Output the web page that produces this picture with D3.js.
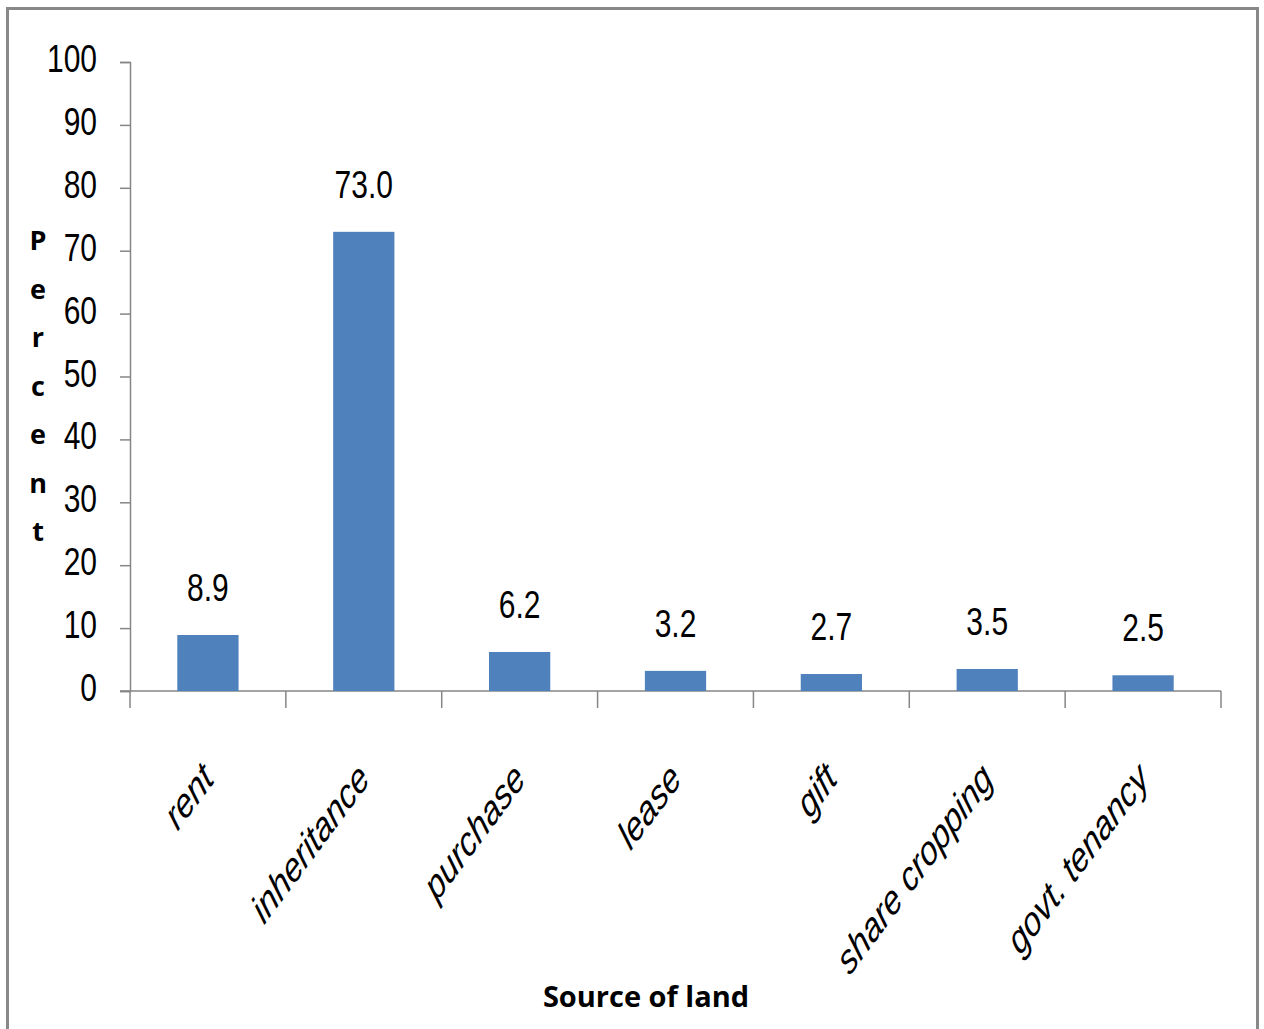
<!DOCTYPE html>
<html>
<head>
<meta charset="utf-8">
<script src="https://cdn.jsdelivr.net/npm/d3@7"></script>
<style>
  body { margin: 0; background: #fff; }
  svg text { fill: #000; }
</style>
</head>
<body>
<svg id="chart" width="1264" height="1029"></svg>
<script>
const categories = ['rent', 'inheritance', 'purchase', 'lease', 'gift', 'share cropping', 'govt. tenancy'];
const values = [8.9, 73.0, 6.2, 3.2, 2.7, 3.5, 2.5];
const yTicks = [0, 10, 20, 30, 40, 50, 60, 70, 80, 90, 100];
const yTitle = 'Percent';
const xTitle = 'Source of land';

const plotLeft = 130;
const plotRight = 1221;
const plotTop = 62;
const plotBottom = 691;
const stretch = 1.3; // text in the source looks squeezed sideways

const svg = d3.select('#chart');

// outer frame
svg.append('rect')
  .attr('x', 7.5)
  .attr('y', 8.5)
  .attr('width', 1250)
  .attr('height', 1040)
  .attr('fill', 'none')
  .attr('stroke', '#888')
  .attr('stroke-width', 3);

const x = d3.scaleBand()
  .domain(categories)
  .range([plotLeft, plotRight])
  .paddingInner(0.607)
  .paddingOuter(0.3035);

const y = d3.scaleLinear()
  .domain([0, 100])
  .range([plotBottom, plotTop]);

const axisColor = '#868686';

// y axis
const yAxis = svg.append('g')
  .attr('transform', `translate(${plotLeft},0)`)
  .call(d3.axisLeft(y).tickValues(yTicks).tickSize(10).tickFormat(''));
yAxis.select('.domain').attr('stroke', axisColor).attr('stroke-width', 1.5);
yAxis.selectAll('.tick line').attr('stroke', axisColor).attr('stroke-width', 1.5);

svg.append('g')
  .selectAll('text')
  .data(yTicks)
  .enter()
  .append('text')
  .text((d) => d)
  .attr('transform', (d) => `translate(97, ${y(d) + 10}) scale(1, ${stretch})`)
  .attr('text-anchor', 'end')
  .attr('font-family', 'Liberation Sans, Arial, sans-serif')
  .attr('font-size', 30);

// x axis
const xEdges = d3.range(categories.length + 1).map((i) => plotLeft + i * x.step());
const xAxis = svg.append('g');
xAxis.append('line')
  .attr('x1', plotLeft - 10)
  .attr('x2', plotRight)
  .attr('y1', plotBottom)
  .attr('y2', plotBottom)
  .attr('stroke', axisColor)
  .attr('stroke-width', 1.5);
xAxis.selectAll('.xtick')
  .data(xEdges)
  .enter()
  .append('line')
  .attr('class', 'xtick')
  .attr('x1', (d) => d)
  .attr('x2', (d) => d)
  .attr('y1', plotBottom)
  .attr('y2', plotBottom + 17)
  .attr('stroke', axisColor)
  .attr('stroke-width', 1.5);

// bars
svg.append('g')
  .selectAll('rect')
  .data(values)
  .enter()
  .append('rect')
  .attr('x', (d, i) => x(categories[i]))
  .attr('y', (d) => y(d))
  .attr('width', x.bandwidth())
  .attr('height', (d) => y(0) - y(d))
  .attr('fill', '#4F81BD');

// value labels
svg.append('g')
  .selectAll('text')
  .data(values)
  .enter()
  .append('text')
  .text((d) => d.toFixed(1))
  .attr('transform', (d, i) => `translate(${x(categories[i]) + x.bandwidth() / 2}, ${y(d) - 34}) scale(1, ${stretch})`)
  .attr('text-anchor', 'middle')
  .attr('font-family', 'Liberation Sans, Arial, sans-serif')
  .attr('font-size', 30);

// category labels, rotated
svg.append('g')
  .selectAll('text')
  .data(categories)
  .enter()
  .append('text')
  .text((d) => d)
  .attr('transform', (d) => `translate(${x(d) + x.bandwidth() / 2 - 8}, 760) scale(1, 1.35) rotate(-45)`)
  .attr('text-anchor', 'end')
  .attr('dy', '0.7em')
  .attr('font-family', 'Liberation Sans, Arial, sans-serif')
  .attr('font-style', 'italic')
  .attr('font-size', 31);

// y title, one letter per line
svg.append('g')
  .selectAll('text')
  .data(yTitle.split(''))
  .enter()
  .append('text')
  .text((d) => d)
  .attr('x', 38)
  .attr('y', (d, i) => 250 + i * 48.5)
  .attr('text-anchor', 'middle')
  .attr('font-family', 'Open Sans, sans-serif')
  .attr('font-weight', 'bold')
  .attr('font-size', 27);

// x title
svg.append('text')
  .text(xTitle)
  .attr('x', 646)
  .attr('y', 1007)
  .attr('text-anchor', 'middle')
  .attr('font-family', 'Open Sans, sans-serif')
  .attr('font-weight', 'bold')
  .attr('font-size', 29);
</script>
</body>
</html>
